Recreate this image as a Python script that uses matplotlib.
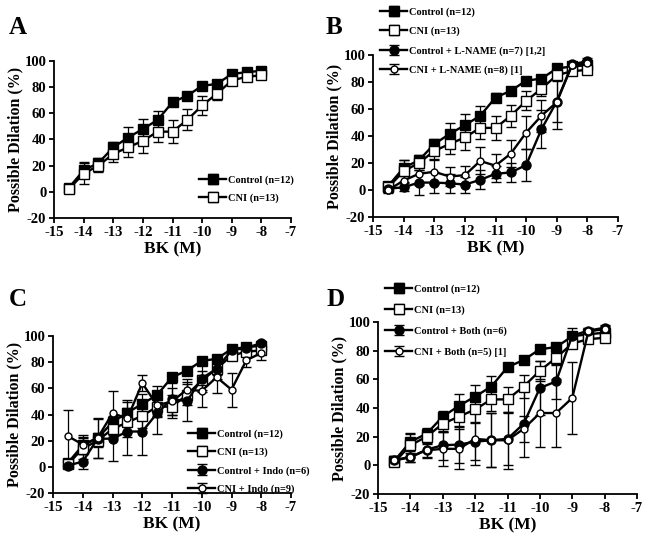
import matplotlib
matplotlib.use("Agg")
import matplotlib.pyplot as plt

plt.rcParams['font.family'] = ['Liberation Serif', 'DejaVu Serif']
plt.rcParams['font.weight'] = 'bold'
plt.rcParams['axes.unicode_minus'] = False

# -- data -------------------------------------------------------------------
bk = [-14.5, -14, -13.5, -13, -12.5, -12, -11.5, -11, -10.5, -10, -9.5, -9, -8.5, -8]

ctrl = [3, 16.5, 22, 34, 41.5, 48, 55, 68.5, 73.5, 81, 82.5, 90, 91.5, 92.5]
ctrl_err = [2, 6, 4, 4, 8, 8, 7, 3, 3, 2, 2, 2, 2, 2]
cni = [2, 14, 20, 29, 34, 39, 46, 46, 55, 66, 75, 85, 88, 89]
cni_err = [2, 8, 5, 6, 7, 9, 8, 9, 8, 7, 5, 3, 2, 2]

lname = [1, 2, 5.5, 5.5, 5, 4, 7.5, 12, 13, 18.5, 45, 65.5, 93, 95.5]
lname_err = [2, 3, 9, 8, 7, 6, 7, 6, 7, 12, 14, 15, 2, 2]
cni_lname = [0, 7, 12, 13.5, 10, 11, 21.5, 18, 27, 42.5, 55, 65, 92.5, 94]
cni_lname_err = [2, 5, 8, 9, 7, 7, 10, 9, 10, 12, 12, 20, 2, 2]

indo = [1, 4, 21.5, 21.5, 27, 27, 41, 52, 50, 67.5, 75, 89, 91, 94.5]
indo_err = [2, 6, 15, 17, 18, 18, 16, 12, 15, 10, 8, 3, 2, 2]
cni_indo = [23.5, 17, 22, 41, 37, 64, 47, 50, 59, 58, 68.5, 59, 81.5, 87]
cni_indo_err = [20, 7, 15, 17, 14, 6, 8, 10, 8, 12, 12, 13, 5, 5]

both = [3.5, 5.5, 11, 14, 14.5, 16.5, 17.5, 18.5, 29, 54, 58.5, 90.5, 94, 96]
both_err = [3, 3, 6, 10, 13, 13, 19, 18, 23, 19, 12, 5, 2, 2]
cni_both = [3.5, 6, 10.5, 11.5, 11.5, 18.5, 17.5, 17.5, 25.5, 36.5, 36.5, 47, 93.5, 95]
cni_both_err = [3, 4, 5, 12, 14, 18, 19, 20, 9, 24, 24, 25, 2, 2]

# marker styles per series type
STYLES = {
    'ctrl': dict(marker='s', ms=6.5, mfc='black'),
    'cni': dict(marker='s', ms=6.5, mfc='white'),
    'drug': dict(marker='o', ms=6.5, mfc='black'),
    'cni_drug': dict(marker='o', ms=5, mfc='white'),
}


def series(ax, y, err, kind, label):
    ax.errorbar(bk, y, yerr=err, color='black', lw=1.7, elinewidth=0.9,
                capsize=3.5, capthick=0.9, mec='black', mew=1.0,
                label=label, clip_on=False, zorder=3, **STYLES[kind])


def setup(ax, letter, lx, ly):
    ax.set_xlim(-15, -7)
    ax.set_ylim(-20, 100)
    ax.set_xticks(range(-15, -6))
    ax.set_yticks(range(-20, 101, 20))
    for s in ['top', 'right']:
        ax.spines[s].set_visible(False)
    for s in ['left', 'bottom']:
        ax.spines[s].set_linewidth(1.3)
    ax.tick_params(direction='out', length=3.5, width=1.3, labelsize=10.5, pad=2)
    for lab in ax.get_xticklabels() + ax.get_yticklabels():
        lab.set_fontweight('bold')
    ax.set_xlabel('BK (M)', fontsize=12.5, fontweight='bold', labelpad=2)
    ax.set_ylabel('Possible Dilation (%)', fontsize=11.5, fontweight='bold', labelpad=1)
    fig.text(lx, ly, letter, fontsize=18, fontweight='bold', ha='left', va='top')


def legend(ax, x, y, spacing):
    leg = ax.legend(loc='upper left', bbox_to_anchor=(x, y), bbox_transform=fig.transFigure,
                    frameon=False, fontsize=7.5, handlelength=2.6, handletextpad=0.2,
                    labelspacing=spacing, borderpad=0, borderaxespad=0)
    for t in leg.get_texts():
        t.set_fontweight('bold')


fig = plt.figure(figsize=(6.49, 5.44), dpi=100)

# Panel A
axA = fig.add_axes([54 / 649, 1 - 218 / 544, 237 / 649, 157 / 544])
series(axA, ctrl, ctrl_err, 'ctrl', 'Control (n=12)')
series(axA, cni, cni_err, 'cni', 'CNI (n=13)')
setup(axA, 'A', 9 / 649, 1 - 16 / 544)
legend(axA, 199 / 649, 1 - 175 / 544, 0.85)

# Panel B
axB = fig.add_axes([373 / 649, 1 - 217 / 544, 245 / 649, 162 / 544])
series(axB, ctrl, ctrl_err, 'ctrl', 'Control (n=12)')
series(axB, cni, cni_err, 'cni', 'CNI (n=13)')
series(axB, lname, lname_err, 'drug', 'Control + L-NAME (n=7) [1,2]')
series(axB, cni_lname, cni_lname_err, 'cni_drug', 'CNI + L-NAME (n=8) [1]')
setup(axB, 'B', 326 / 649, 1 - 16 / 544)
legend(axB, 380 / 649, 1 - 7 / 544, 0.95)

# Panel C
axC = fig.add_axes([53 / 649, 1 - 493 / 544, 238 / 649, 157 / 544])
series(axC, ctrl, ctrl_err, 'ctrl', 'Control (n=12)')
series(axC, cni, cni_err, 'cni', 'CNI (n=13)')
series(axC, indo, indo_err, 'drug', 'Control + Indo (n=6)')
series(axC, cni_indo, cni_indo_err, 'cni_drug', 'CNI + Indo (n=9)')
setup(axC, 'C', 9 / 649, 1 - 288 / 544)
legend(axC, 188 / 649, 1 - 429 / 544, 0.85)

# Panel D
axD = fig.add_axes([378 / 649, 1 - 494 / 544, 259 / 649, 172 / 544])
series(axD, ctrl, ctrl_err, 'ctrl', 'Control (n=12)')
series(axD, cni, cni_err, 'cni', 'CNI (n=13)')
series(axD, both, both_err, 'drug', 'Control + Both (n=6)')
series(axD, cni_both, cni_both_err, 'cni_drug', 'CNI + Both (n=5) [1]')
setup(axD, 'D', 326 / 649, 1 - 288 / 544)
legend(axD, 385 / 649, 1 - 284 / 544, 1.1)

fig.savefig('out.png', dpi=100, facecolor='white')
